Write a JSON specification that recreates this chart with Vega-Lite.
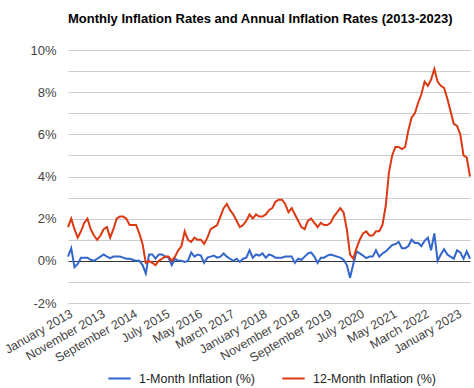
{
  "$schema": "https://vega.github.io/schema/vega-lite/v6.json",
  "width": 402,
  "height": 253,
  "autosize": {"type": "none"},
  "padding": {"left": 68, "top": 50, "right": 4, "bottom": 85},
  "title": {"text": "Monthly Inflation Rates and Annual Inflation Rates (2013-2023)", "anchor": "start", "frame": "group", "fontSize": 13, "font": "Liberation Sans", "fontWeight": "bold", "color": "#000000", "offset": 18},
  "config": {"view": {"stroke": null}, "font": "Liberation Sans"},
  "data": {"values": [
    {"m": "January 2013", "a": 0.2, "b": 1.6},
    {"m": "February 2013", "a": 0.6, "b": 2.0},
    {"m": "March 2013", "a": -0.3, "b": 1.5},
    {"m": "April 2013", "a": -0.15, "b": 1.1},
    {"m": "May 2013", "a": 0.15, "b": 1.4},
    {"m": "June 2013", "a": 0.15, "b": 1.8},
    {"m": "July 2013", "a": 0.15, "b": 2.0},
    {"m": "August 2013", "a": 0.05, "b": 1.5},
    {"m": "September 2013", "a": 0.0, "b": 1.2},
    {"m": "October 2013", "a": 0.1, "b": 1.0},
    {"m": "November 2013", "a": 0.2, "b": 1.2},
    {"m": "December 2013", "a": 0.3, "b": 1.5},
    {"m": "January 2014", "a": 0.2, "b": 1.6},
    {"m": "February 2014", "a": 0.13, "b": 1.1},
    {"m": "March 2014", "a": 0.2, "b": 1.5},
    {"m": "April 2014", "a": 0.2, "b": 2.0},
    {"m": "May 2014", "a": 0.2, "b": 2.1},
    {"m": "June 2014", "a": 0.15, "b": 2.1},
    {"m": "July 2014", "a": 0.1, "b": 2.0},
    {"m": "August 2014", "a": 0.1, "b": 1.7},
    {"m": "September 2014", "a": 0.05, "b": 1.7},
    {"m": "October 2014", "a": 0.0, "b": 1.7},
    {"m": "November 2014", "a": 0.0, "b": 1.3},
    {"m": "December 2014", "a": -0.2, "b": 0.8},
    {"m": "January 2015", "a": -0.6, "b": -0.1},
    {"m": "February 2015", "a": 0.3, "b": 0.0},
    {"m": "March 2015", "a": 0.3, "b": -0.1},
    {"m": "April 2015", "a": 0.1, "b": -0.2},
    {"m": "May 2015", "a": 0.3, "b": 0.0},
    {"m": "June 2015", "a": 0.3, "b": 0.1},
    {"m": "July 2015", "a": 0.2, "b": 0.2},
    {"m": "August 2015", "a": 0.15, "b": 0.2},
    {"m": "September 2015", "a": -0.2, "b": 0.0},
    {"m": "October 2015", "a": 0.1, "b": 0.2},
    {"m": "November 2015", "a": 0.0, "b": 0.5},
    {"m": "December 2015", "a": 0.0, "b": 0.7},
    {"m": "January 2016", "a": -0.05, "b": 1.4},
    {"m": "February 2016", "a": 0.0, "b": 1.0},
    {"m": "March 2016", "a": 0.4, "b": 0.9},
    {"m": "April 2016", "a": 0.2, "b": 1.1},
    {"m": "May 2016", "a": 0.3, "b": 1.0},
    {"m": "June 2016", "a": 0.25, "b": 1.0},
    {"m": "July 2016", "a": -0.1, "b": 0.8},
    {"m": "August 2016", "a": 0.15, "b": 1.1},
    {"m": "September 2016", "a": 0.2, "b": 1.5},
    {"m": "October 2016", "a": 0.25, "b": 1.6},
    {"m": "November 2016", "a": 0.15, "b": 1.7},
    {"m": "December 2016", "a": 0.2, "b": 2.1},
    {"m": "January 2017", "a": 0.35, "b": 2.5},
    {"m": "February 2017", "a": 0.2, "b": 2.7},
    {"m": "March 2017", "a": 0.1, "b": 2.4},
    {"m": "April 2017", "a": 0.0, "b": 2.2},
    {"m": "May 2017", "a": 0.1, "b": 1.9},
    {"m": "June 2017", "a": -0.05, "b": 1.6},
    {"m": "July 2017", "a": 0.1, "b": 1.7},
    {"m": "August 2017", "a": 0.15, "b": 1.9},
    {"m": "September 2017", "a": 0.5, "b": 2.2},
    {"m": "October 2017", "a": 0.15, "b": 2.0},
    {"m": "November 2017", "a": 0.3, "b": 2.2},
    {"m": "December 2017", "a": 0.25, "b": 2.1},
    {"m": "January 2018", "a": 0.35, "b": 2.1},
    {"m": "February 2018", "a": 0.15, "b": 2.2},
    {"m": "March 2018", "a": 0.3, "b": 2.4},
    {"m": "April 2018", "a": 0.25, "b": 2.5},
    {"m": "May 2018", "a": 0.15, "b": 2.8},
    {"m": "June 2018", "a": 0.15, "b": 2.9},
    {"m": "July 2018", "a": 0.15, "b": 2.9},
    {"m": "August 2018", "a": 0.2, "b": 2.7},
    {"m": "September 2018", "a": 0.2, "b": 2.3},
    {"m": "October 2018", "a": 0.2, "b": 2.5},
    {"m": "November 2018", "a": -0.1, "b": 2.2},
    {"m": "December 2018", "a": 0.1, "b": 1.9},
    {"m": "January 2019", "a": 0.05, "b": 1.6},
    {"m": "February 2019", "a": 0.2, "b": 1.5},
    {"m": "March 2019", "a": 0.35, "b": 1.9},
    {"m": "April 2019", "a": 0.4, "b": 2.0},
    {"m": "May 2019", "a": 0.2, "b": 1.8},
    {"m": "June 2019", "a": -0.1, "b": 1.6},
    {"m": "July 2019", "a": 0.15, "b": 1.8},
    {"m": "August 2019", "a": 0.15, "b": 1.7},
    {"m": "September 2019", "a": 0.25, "b": 1.7},
    {"m": "October 2019", "a": 0.3, "b": 1.8},
    {"m": "November 2019", "a": 0.25, "b": 2.1},
    {"m": "December 2019", "a": 0.2, "b": 2.3},
    {"m": "January 2020", "a": 0.15, "b": 2.5},
    {"m": "February 2020", "a": 0.05, "b": 2.3},
    {"m": "March 2020", "a": -0.2, "b": 1.5},
    {"m": "April 2020", "a": -0.8, "b": 0.3},
    {"m": "May 2020", "a": -0.15, "b": 0.1},
    {"m": "June 2020", "a": 0.45, "b": 0.6},
    {"m": "July 2020", "a": 0.35, "b": 1.0},
    {"m": "August 2020", "a": 0.25, "b": 1.3},
    {"m": "September 2020", "a": 0.13, "b": 1.4},
    {"m": "October 2020", "a": 0.2, "b": 1.2},
    {"m": "November 2020", "a": 0.2, "b": 1.2},
    {"m": "December 2020", "a": 0.5, "b": 1.4},
    {"m": "January 2021", "a": 0.2, "b": 1.4},
    {"m": "February 2021", "a": 0.35, "b": 1.7},
    {"m": "March 2021", "a": 0.45, "b": 2.6},
    {"m": "April 2021", "a": 0.6, "b": 4.2},
    {"m": "May 2021", "a": 0.75, "b": 5.0},
    {"m": "June 2021", "a": 0.8, "b": 5.4},
    {"m": "July 2021", "a": 0.9, "b": 5.4},
    {"m": "August 2021", "a": 0.6, "b": 5.3},
    {"m": "September 2021", "a": 0.6, "b": 5.4},
    {"m": "October 2021", "a": 0.7, "b": 6.2},
    {"m": "November 2021", "a": 1.0, "b": 6.8},
    {"m": "December 2021", "a": 0.85, "b": 7.0},
    {"m": "January 2022", "a": 0.85, "b": 7.5},
    {"m": "February 2022", "a": 0.7, "b": 7.9},
    {"m": "March 2022", "a": 0.95, "b": 8.5},
    {"m": "April 2022", "a": 1.1, "b": 8.3},
    {"m": "May 2022", "a": 0.5, "b": 8.6},
    {"m": "June 2022", "a": 1.3, "b": 9.1},
    {"m": "July 2022", "a": 0.0, "b": 8.5},
    {"m": "August 2022", "a": 0.3, "b": 8.3},
    {"m": "September 2022", "a": 0.55, "b": 8.2},
    {"m": "October 2022", "a": 0.3, "b": 7.7},
    {"m": "November 2022", "a": 0.2, "b": 7.1},
    {"m": "December 2022", "a": 0.1, "b": 6.5},
    {"m": "January 2023", "a": 0.5, "b": 6.4},
    {"m": "February 2023", "a": 0.4, "b": 6.0},
    {"m": "March 2023", "a": 0.1, "b": 5.0},
    {"m": "April 2023", "a": 0.45, "b": 4.9},
    {"m": "May 2023", "a": 0.1, "b": 4.0}
  ]},
  "transform": [{"fold": ["a", "b"], "as": ["series", "value"]}],
  "mark": {"type": "line", "strokeWidth": 2},
  "encoding": {
    "x": {
      "field": "m", "type": "ordinal", "sort": null,
      "scale": {"type": "point", "padding": 0},
      "axis": {
        "values": ["January 2013", "November 2013", "September 2014", "July 2015", "May 2016", "March 2017", "January 2018", "November 2018", "September 2019", "July 2020", "May 2021", "March 2022", "January 2023"],
        "labelAngle": -30, "labelAlign": "right", "labelBaseline": "top",
        "labelOverlap": false, "labelBound": false, "labelFlush": false,
        "ticks": false, "domain": false, "grid": false, "title": null,
        "labelFontSize": 12.5, "labelColor": "#444444", "labelPadding": 4, "labelFont": "Liberation Sans"
      }
    },
    "y": {
      "field": "value", "type": "quantitative",
      "scale": {"domain": [-2, 10], "nice": false, "zero": false},
      "axis": {
        "values": [-2, -1, 0, 1, 2, 3, 4, 5, 6, 7, 8, 9, 10],
        "labelExpr": "datum.value % 2 == 0 ? datum.value + '%' : ''",
        "gridColor": {"condition": {"test": "datum.value == 0", "value": "#333333"}, "value": "#cccccc"},
        "domain": false, "ticks": false, "title": null,
        "labelFontSize": 13, "labelColor": "#444444", "labelPadding": 12, "labelFont": "Liberation Sans"
      }
    },
    "color": {
      "field": "series", "type": "nominal",
      "scale": {"domain": ["a", "b"], "range": ["#3366cc", "#dc3912"]},
      "legend": {
        "orient": "none", "legendX": 39, "legendY": 316, "title": null, "direction": "horizontal",
        "labelExpr": "datum.value == 'a' ? '1-Month Inflation (%)' : '12-Month Inflation (%)'",
        "symbolType": "stroke", "symbolStrokeWidth": 2, "symbolSize": 500,
        "labelFontSize": 12.5, "labelColor": "#222222", "labelFont": "Liberation Sans",
        "columnPadding": 22, "labelOffset": 7
      }
    }
  }
}
